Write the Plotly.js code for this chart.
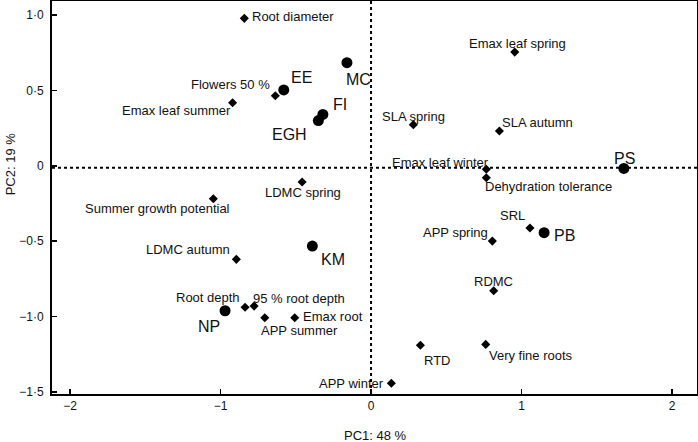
<!DOCTYPE html>
<html>
<head>
<meta charset="utf-8">
<script src="https://cdn.plot.ly/plotly-3.0.1.min.js"></script>
<style>html,body{margin:0;padding:0;background:#fff;}#chart{width:698px;height:442px;}</style>
</head>
<body>
<div id="chart"></div>
<script>
// Species scores
var speciesNames = ["EE", "MC", "FI", "EGH", "PS", "PB", "KM", "NP"];
var speciesPC1 = [-0.58, -0.16, -0.32, -0.35, 1.68, 1.15, -0.39, -0.97];
var speciesPC2 = [0.503, 0.684, 0.341, 0.300, -0.017, -0.443, -0.532, -0.961];

// Trait loadings
var traitNames = ["Root diameter", "Flowers 50 %", "Emax leaf summer", "LDMC spring",
  "Summer growth potential", "Emax leaf spring", "SLA spring", "SLA autumn",
  "Emax leaf winter", "Dehydration tolerance", "SRL", "APP spring", "RDMC", "RTD",
  "Very fine roots", "APP winter", "LDMC autumn", "Root depth", "95 % root depth",
  "APP summer", "Emax root"];
var traitPC1 = [-0.842, -0.636, -0.92, -0.458, -1.048, 0.955, 0.281, 0.853, 0.766, 0.766,
  1.056, 0.806, 0.815, 0.328, 0.762, 0.135, -0.895, -0.837, -0.777, -0.706, -0.507];
var traitPC2 = [0.978, 0.465, 0.418, -0.107, -0.218, 0.754, 0.273, 0.231, -0.023, -0.079,
  -0.412, -0.499, -0.828, -1.19, -1.184, -1.442, -0.620, -0.938, -0.930, -1.007, -1.007];

// Axis ticks
var xTickVals = [-2, -1, 0, 1, 2];
var xTickText = ["\u22122", "\u22121", "0", "1", "2"];
var yTickVals = [1.0, 0.5, 0, -0.5, -1.0, -1.5];
var yTickText = ["1\u00b70", "0\u00b75", "0", "\u22120\u00b75", "\u22121\u00b70", "\u22121\u00b75"];

// Label placement (layout only): [xanchor, xshift, yshift]
var traitLabelPlace = [
  ["left", 6, 2], ["right", -3, 11], ["right", 0, -8], ["center", 1, -11],
  ["right", 19, -10], ["center", 3, 9], ["center", 0, 8], ["left", 1, 8],
  ["right", 5, 7], ["left", -3, -9], ["right", -3, 12], ["right", -2, 9],
  ["center", 0, 9], ["left", 2, -15], ["left", 1, -11], ["right", -5, 0],
  ["right", -4, 10], ["right", -3, 10], ["left", -3, 8], ["left", -6, -13],
  ["left", 6, 1]
];
var speciesLabelPlace = [
  ["left", 5, 12], ["left", -3, -17], ["left", 8, 10], ["right", -9, -14],
  ["center", 1, 10], ["left", 8, -3], ["left", 7, -13], ["center", -16, -16]
];

var FONT = "Liberation Sans, Arial, Helvetica, sans-serif";
var INK = "#111";

var traces = [
  {
    type: "scatter", mode: "markers", x: traitPC1, y: traitPC2,
    marker: {symbol: "diamond", size: 7, color: "#000"},
    hoverinfo: "skip", showlegend: false, cliponaxis: false
  },
  {
    type: "scatter", mode: "markers", x: speciesPC1, y: speciesPC2,
    marker: {symbol: "circle", size: 11, color: "#000"},
    hoverinfo: "skip", showlegend: false, cliponaxis: false
  }
];

var annotations = [];
traitNames.forEach(function (n, i) {
  var p = traitLabelPlace[i];
  annotations.push({
    x: traitPC1[i], y: traitPC2[i], xref: "x", yref: "y", text: n, showarrow: false,
    xanchor: p[0], yanchor: "middle", xshift: p[1], yshift: p[2],
    font: {family: FONT, size: 13, color: INK}
  });
});
speciesNames.forEach(function (n, i) {
  var p = speciesLabelPlace[i];
  annotations.push({
    x: speciesPC1[i], y: speciesPC2[i], xref: "x", yref: "y", text: n, showarrow: false,
    xanchor: p[0], yanchor: "middle", xshift: p[1], yshift: p[2],
    font: {family: FONT, size: 16, color: INK}
  });
});
// axis titles
annotations.push({
  xref: "paper", yref: "paper", x: 0.502, y: 0, yshift: -41, xanchor: "center", yanchor: "middle",
  text: "PC1: 48 %", showarrow: false, font: {family: FONT, size: 13, color: INK}
});
annotations.push({
  xref: "paper", x: 0, xshift: -42, yref: "y", y: 0.01, xanchor: "center", yanchor: "middle",
  text: "PC2: 19 %", textangle: -90, showarrow: false, font: {family: FONT, size: 13, color: INK}
});

var layout = {
  width: 698, height: 442,
  margin: {l: 52, r: 1, t: 1, b: 48, pad: 0},
  paper_bgcolor: "#fff", plot_bgcolor: "#fff",
  font: {family: FONT, size: 12, color: INK},
  showlegend: false,
  xaxis: {
    range: [-2.12, 2.166], tickvals: xTickVals, ticktext: xTickText,
    ticks: "inside", ticklen: 5, tickwidth: 1.5, tickcolor: "#000",
    showline: true, linewidth: 2, linecolor: "#000", mirror: true,
    showgrid: false, zeroline: false, tickfont: {family: FONT, size: 12, color: INK},
    fixedrange: true
  },
  yaxis: {
    range: [-1.513, 1.093], tickvals: yTickVals, ticktext: yTickText,
    ticks: "inside", ticklen: 5, tickwidth: 1.5, tickcolor: "#000",
    showline: true, linewidth: 2, linecolor: "#000", mirror: true,
    showgrid: false, zeroline: false, tickfont: {family: FONT, size: 12, color: INK},
    ticklabelstandoff: 4, fixedrange: true
  },
  shapes: [
    {type: "line", xref: "x", yref: "paper", x0: 0, x1: 0, y0: 0, y1: 1,
     line: {color: "#000", width: 2, dash: "dot"}, layer: "below"},
    {type: "line", xref: "paper", yref: "y", x0: 0, x1: 1, y0: -0.012, y1: -0.012,
     line: {color: "#000", width: 2, dash: "dot"}, layer: "below"}
  ],
  annotations: annotations
};

Plotly.newPlot("chart", traces, layout, {displayModeBar: false, staticPlot: true});
</script>
</body>
</html>
